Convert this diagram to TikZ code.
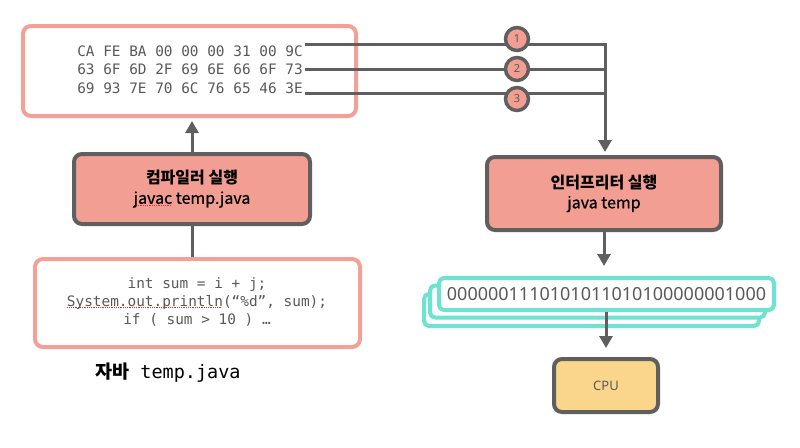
\documentclass[tikz,border=0pt]{standalone}
\usepackage{fontspec}
\setmainfont{Noto Sans}
\setmonofont{DejaVu Sans Mono}
\newfontfamily\krfont{Noto Sans CJK KR}
\newfontfamily\krmid{Noto Sans CJK KR}[FakeBold=0.7]
\usetikzlibrary{arrows.meta}

\definecolor{pinkline}{HTML}{F3A096}
\definecolor{salmon}{HTML}{F29E93}
\definecolor{grayline}{HTML}{5F5F5F}
\definecolor{mint}{HTML}{6FE3D1}
\definecolor{cpuyellow}{HTML}{F9D68B}
\definecolor{textgray}{HTML}{595959}
\definecolor{spellred}{HTML}{E03030}

% red dotted spell-check mark under a word
\newsavebox\spellbox
\newcommand\spellmark[1]{\sbox\spellbox{#1}%
   \rlap{\raisebox{-2.2pt}[0pt][0pt]{\textcolor{spellred}{\hbox to \wd\spellbox{\leaders\hbox to 1.8pt{\hss\rule{0.9pt}{0.9pt}\hss}\hfill}}}}%
   \usebox\spellbox}

\begin{document}
\begin{tikzpicture}[x=1pt, y=-1pt,
   >={Triangle[width=13pt,length=12pt]},
   pinkbox/.style={draw=pinkline, line width=4pt, rounded corners=8pt, fill=white, inner sep=0pt},
   graybox/.style={draw=grayline, line width=4pt, rounded corners=8pt, fill=salmon, inner sep=0pt,
      align=center, font=\krmid\fontsize{16}{20}\selectfont},
   stackbox/.style={draw=mint, line width=4pt, rounded corners=5pt, fill=white, inner sep=0pt,
      minimum width=335pt, minimum height=32pt},
   hexline/.style={anchor=base, inner sep=0pt, text=textgray, font=\ttfamily\fontsize{14.4}{18}\selectfont},
   wire/.style={draw=grayline, line width=3pt},
   numball/.style={circle, draw=grayline, line width=3.5pt, fill=salmon, minimum size=23pt, inner sep=0pt,
      text=textgray, font=\fontsize{11}{11}\selectfont}]
   \useasboundingbox (0,0) rectangle (800,447);

   %% bytecode box
   \node[pinkbox, minimum width=333pt, minimum height=90pt] (bytecode) at (189.5,71) {};
   \node[hexline] (hex1) at (190,56) {CA FE BA 00 00 00 31 00 9C};
   \node[hexline] (hex2) at (190,74.5) {63 6F 6D 2F 69 6E 66 6F 73};
   \node[hexline] (hex3) at (190,93) {69 93 7E 70 6C 76 65 46 3E};

   %% compiler and source
   \node[graybox, minimum width=236pt, minimum height=70pt] (compiler) at (192,189)
      {{\krfont\bfseries 컴파일러 실행}\\\spellmark{javac} temp.java};
   \node[pinkbox, minimum width=325pt, minimum height=88pt] (source) at (197.5,303) {};
   \node[hexline] (code1) at (197,288) {int sum = i + j;};
   \node[hexline] (code2) at (197,306) {\spellmark{System.out.println}(“\%d”, sum);};
   \node[hexline] (code3) at (197,324) {if ( sum > 10 ) …};
   \node[anchor=base west, inner sep=0pt, font=\fontsize{18.5}{18}\selectfont] (srclabel) at (95,378)
      {{\krfont\bfseries 자바}\texttt{ temp.java}};

   \draw[wire] (compiler.south |- source.north) -- (compiler.south);
   \draw[wire, ->, shorten >=3pt] (compiler.north) -- (compiler.north |- bytecode.south);

   %% interpreter side
   \node[graybox, minimum width=234pt, minimum height=73pt] (interp) at (604,193.5)
      {{\krfont\bfseries 인터프리터 실행}\\java temp};

   \coordinate (b1) at (305,44);
   \coordinate (b2) at (305,69);
   \coordinate (b3) at (305,93);
   \coordinate (j1) at (605,44);
   \coordinate (j2) at (605,69);
   \coordinate (j3) at (605,93);

   \draw[wire] (b2) -- (j2);
   \draw[wire] (b3) -- (j3);
   \draw[wire, ->, shorten >=3pt] (b1) -- (j1) -- (j1 |- interp.north);

   \foreach \n/\y in {1/39, 2/69, 3/99}
   {
       \node[numball] (ball\n) at (517,\y) {\n};
   };

   %% machine code stack
   \node[stackbox] (stack3) at (591.5,310) {};
   \node[stackbox] (stack2) at (597.5,301.5) {};
   \node[stackbox, text=textgray, font=\fontsize{18}{18}\selectfont] (stack1) at (606.5,294)
      {0000001110101011010100000001000};

   \node[draw=grayline, line width=4pt, rounded corners=8pt, fill=cpuyellow, minimum width=104pt,
      minimum height=53pt, text=textgray, font=\fontsize{13}{13}\selectfont] (cpu) at (606,385.5) {CPU};

   \draw[wire, ->, shorten >=10pt] (interp.south) -- (interp.south |- stack1.north);
   \draw[wire, ->, shorten >=9pt] (cpu.north |- stack1.south) -- (cpu.north);

\end{tikzpicture}
\end{document}
